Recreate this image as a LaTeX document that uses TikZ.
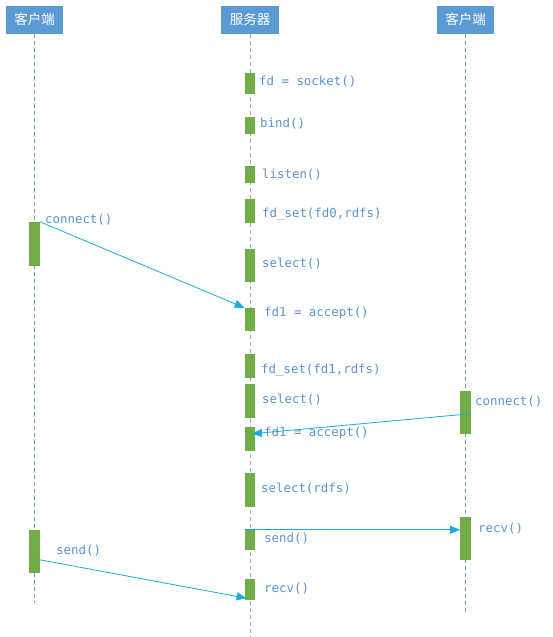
\documentclass[tikz,border=0pt]{standalone}
\usepackage{fontspec}
\setmonofont{DejaVu Sans Mono}
\newfontfamily\cjk{Noto Sans CJK SC}
\usetikzlibrary{arrows.meta,calc}
\definecolor{hdr}{HTML}{5B9BD5}
\definecolor{act}{HTML}{70AD47}
\definecolor{msgc}{HTML}{1AACE0}
\definecolor{txt}{HTML}{5B93D0}
\definecolor{lifeb}{HTML}{6A9FD8}
\definecolor{lifeg}{HTML}{9AA6BA}
\tikzset{
  head/.style={rectangle, fill=hdr, draw=white, line width=0.6pt, text=white, minimum width=58.5pt, minimum height=29pt, inner sep=0pt, font=\cjk\fontsize{13.5}{14}\selectfont},
  life/.style={dash pattern=on 4pt off 3pt, line width=0.8pt},
  bar/.style={rectangle, fill=act, draw=none, minimum width=10.5pt, inner sep=0pt},
  lbl/.style={anchor=west, inner sep=0pt, text=txt, font=\ttfamily\fontsize{12.4}{13}\selectfont},
  msg/.style={draw=msgc, line width=0.8pt, -{Triangle[length=10pt,width=8pt]}}
}
\begin{document}
\begin{tikzpicture}[x=1pt,y=-1pt]
\useasboundingbox (0,0) rectangle (553,637);
\fill[white] (0,0) rectangle (553,637);
% headers
\node[head] (h1) at (34.5,19.5) {客户端};
\node[head] (h2) at (250,19.5) {服务器};
\node[head] (h3) at (465.5,19.5) {客户端};
% lifeline ends
\coordinate (e1) at (34.5,603);
\coordinate (e2) at (250,637);
\coordinate (e3) at (465.5,615);
\draw[life, lifeb] (h1.south) -- (e1);
\draw[life, lifeg] (h2.south) -- (e2);
\draw[life, lifeb] (h3.south) -- (e3);
% server bars
\node[bar, minimum height=21pt] (sock) at (250,83.5) {};
\node[bar, minimum height=17pt] (bind) at (250,125.5) {};
\node[bar, minimum height=17pt] (listen) at (250,174.5) {};
\node[bar, minimum height=24pt] (fdset0) at (250,211) {};
\node[bar, minimum height=33pt] (sel1) at (250,265.5) {};
\node[bar, minimum height=23pt] (acc1) at (250,319.5) {};
\node[bar, minimum height=24pt] (fdset1) at (250,366) {};
\node[bar, minimum height=34pt] (sel2) at (250,401) {};
\node[bar, minimum height=24pt] (acc2) at (250,439) {};
\node[bar, minimum height=34pt] (sel3) at (250,490) {};
\node[bar, minimum height=20pt] (ssend) at (250,540) {};
\node[bar, minimum height=21pt] (srecv) at (250,589.5) {};
% client bars
\node[bar, minimum height=44pt] (lconn) at (34.5,244) {};
\node[bar, minimum height=43pt] (lsend) at (34.5,551.5) {};
\node[bar, minimum height=43pt] (rconn) at (465.5,412.5) {};
\node[bar, minimum height=43pt] (rrecv) at (465.5,538.5) {};
% labels
\node[lbl] (t1) at (259,82) {fd = socket()};
\node[lbl] (t2) at (260,124) {bind()};
\node[lbl] (t3) at (262,175) {listen()};
\node[lbl] (t4) at (262,214) {fd\_set(fd0,rdfs)};
\node[lbl] (t5) at (262,264) {select()};
\node[lbl] (t6) at (264,313) {fd1 = accept()};
\node[lbl] (t7) at (261,370) {fd\_set(fd1,rdfs)};
\node[lbl] (t8) at (262,400) {select()};
\node[lbl] (t9) at (264,433) {fd1 = accept()};
\node[lbl] (t10) at (261,489) {select(rdfs)};
\node[lbl] (t11) at (264,539) {send()};
\node[lbl] (t12) at (264,589) {recv()};
\node[lbl] (t13) at (45,220) {connect()};
\node[lbl] (t14) at (475,402) {connect()};
\node[lbl] (t15) at (478,529) {recv()};
\node[lbl] (t16) at (56,551) {send()};
% messages
\coordinate (m2s) at ($(rconn.north east)+(-1,23)$);
\coordinate (m2e) at ($(acc2.north)+(2,7)$);
\coordinate (m4s) at ($(lsend.north east)+(0,30)$);
\coordinate (m4e) at ($(srecv.south west)+(2,-2)$);
\draw[msg] (lconn.north east) -- (acc1.north west);
\draw[msg] (m2s) -- (m2e);
\draw[msg] (ssend.north west) -- (rrecv.west |- ssend.north);
\draw[msg] (m4s) -- (m4e);
\end{tikzpicture}
\end{document}
